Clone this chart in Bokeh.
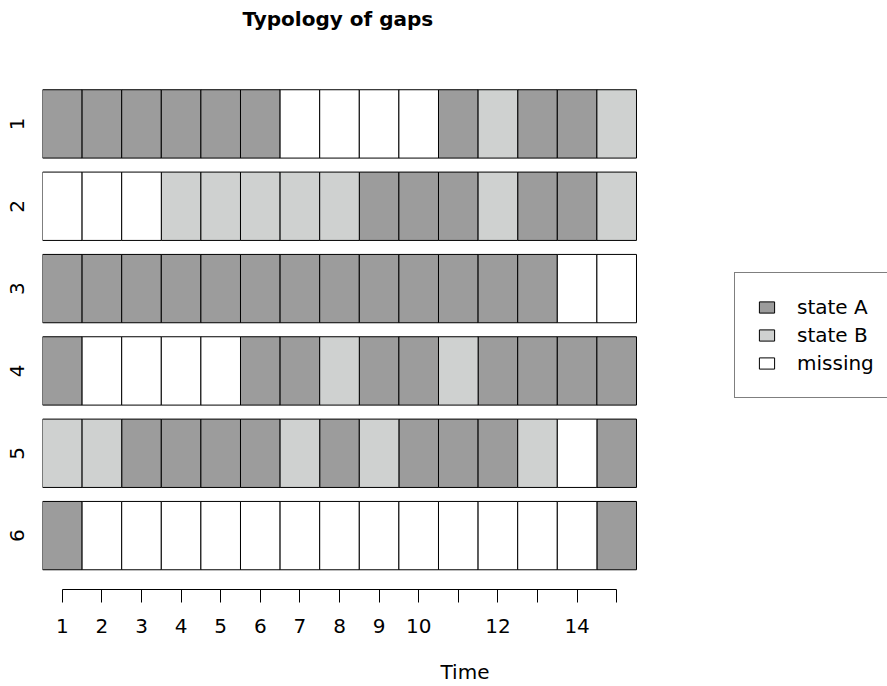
from bokeh.plotting import figure
from bokeh.models import (Range1d, FixedTicker, Legend, LegendItem, ColumnDataSource,
                          LinearAxis, Title)
from bokeh.embed import file_html
from bokeh.resources import INLINE

# ---------------- data ----------------
title_text = "Typology of gaps"
time_points = list(range(1, 16))
x_tick_labels = ["1", "2", "3", "4", "5", "6", "7", "8", "9", "10", "", "12", "", "14", ""]
seq_ids = [1, 2, 3, 4, 5, 6]
seq_labels = ["1", "2", "3", "4", "5", "6"]

seq1 = ["A", "A", "A", "A", "A", "A", "M", "M", "M", "M", "A", "B", "A", "A", "B"]
seq2 = ["M", "M", "M", "B", "B", "B", "B", "B", "A", "A", "A", "B", "A", "A", "B"]
seq3 = ["A", "A", "A", "A", "A", "A", "A", "A", "A", "A", "A", "A", "A", "M", "M"]
seq4 = ["A", "M", "M", "M", "M", "A", "A", "B", "A", "A", "B", "A", "A", "A", "A"]
seq5 = ["B", "B", "A", "A", "A", "A", "B", "A", "B", "A", "A", "A", "B", "M", "A"]
seq6 = ["A", "M", "M", "M", "M", "M", "M", "M", "M", "M", "M", "M", "M", "M", "A"]
sequences = [seq1, seq2, seq3, seq4, seq5, seq6]

states = ["A", "B", "M"]
state_labels = ["state A", "state B", "missing"]
state_colors = ["#9c9c9c", "#cfd1d0", "#ffffff"]

FONT = "DejaVu Sans"
BAR_H = 0.83

p = figure(width=887, height=686, output_backend="svg", toolbar_location=None,
           x_range=Range1d(0.5, 21.8384), y_range=Range1d(6.6545, 0.4727),
           min_border_left=42, min_border_right=0, min_border_top=80, min_border_bottom=96,
           x_axis_location=None, y_axis_location=None)
p.outline_line_color = None
p.background_fill_color = "white"
p.border_fill_color = "white"
p.xgrid.visible = False
p.ygrid.visible = False

renderers = []
for st, col in zip(states, state_colors):
    L, R, T, B = [], [], [], []
    for sid, seq in zip(seq_ids, sequences):
        for t, s in zip(time_points, seq):
            if s == st:
                L.append(t - 0.5)
                R.append(t + 0.5)
                T.append(sid - BAR_H / 2)
                B.append(sid + BAR_H / 2)
    src = ColumnDataSource(dict(left=L, right=R, top=T, bottom=B))
    r = p.quad(left="left", right="right", top="top", bottom="bottom", source=src,
               fill_color=col, line_color="black", line_width=1)
    renderers.append(r)

# x axis
xaxis = LinearAxis(ticker=FixedTicker(ticks=time_points), bounds=(1, 15))
xaxis.major_label_overrides = {t: lab for t, lab in zip(time_points, x_tick_labels)}
xaxis.major_tick_out = 13
xaxis.major_tick_in = 0
xaxis.minor_tick_line_color = None
xaxis.major_label_standoff = 16
xaxis.major_label_text_font = FONT
xaxis.major_label_text_font_size = "20px"
xaxis.major_label_text_color = "black"
xaxis.axis_line_color = "black"
xaxis.major_tick_line_color = "black"
xaxis.axis_label = "Time"
xaxis.axis_label_text_font = FONT
xaxis.axis_label_text_font_size = "20px"
xaxis.axis_label_text_font_style = "normal"
xaxis.axis_label_text_color = "black"
xaxis.axis_label_standoff = 24
p.add_layout(xaxis, "below")

# y axis
yaxis = LinearAxis(ticker=FixedTicker(ticks=seq_ids))
yaxis.major_label_overrides = {s: lab for s, lab in zip(seq_ids, seq_labels)}
yaxis.major_label_orientation = "parallel"
yaxis.axis_line_color = None
yaxis.major_tick_line_color = None
yaxis.minor_tick_line_color = None
yaxis.major_tick_out = 0
yaxis.major_tick_in = 0
yaxis.major_label_standoff = 18
yaxis.major_label_text_font = FONT
yaxis.major_label_text_font_size = "20px"
yaxis.major_label_text_color = "black"
p.add_layout(yaxis, "left")

# real title, with a blank spacer title between it and the frame
p.title = Title(text=title_text, align="left", offset=200,
                vertical_align="bottom", standoff=0,
                text_font=FONT, text_font_size="20px", text_font_style="bold",
                text_color="black")
p.add_layout(Title(text=" ", text_font=FONT, text_font_size="20px", standoff=24), "above")

# legend
legend = Legend(items=[LegendItem(label=lab, renderers=[r]) for lab, r in zip(state_labels, renderers)],
                location=(692, 191), orientation="vertical",
                padding=22, margin=0, spacing=4,
                glyph_width=19, glyph_height=14, label_height=20,
                label_standoff=21,
                label_text_font=FONT, label_text_font_size="20px", label_text_color="black",
                border_line_color="black", border_line_width=1,
                background_fill_color="white", background_fill_alpha=1.0)
p.add_layout(legend)

open("out.html", "w").write(file_html(p, INLINE))
